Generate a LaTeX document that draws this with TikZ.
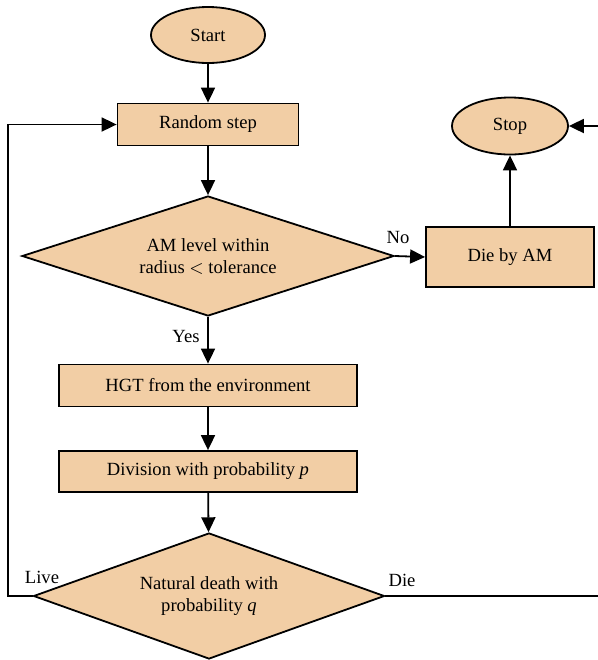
\documentclass[tikz,border=0pt]{standalone}
\usepackage{fontspec}
\setmainfont{Liberation Serif}
\definecolor{fcFill}{RGB}{242,206,165}
\usetikzlibrary{shapes,arrows.meta,positioning}

\begin{document}
\begin{tikzpicture}[x=0.5pt,y=-0.5pt,
    every node/.style={font=\fontsize{9.3}{11}\selectfont},
    blk/.style={draw,fill=fcFill,line width=0.9pt,inner sep=0pt,align=center},
    term/.style={blk,ellipse,minimum width=57pt,minimum height=28pt},
    proc/.style={blk,rectangle,minimum height=21pt},
    dec/.style={blk,diamond,shape aspect=3},
    flow/.style={line width=0.9pt,-{Triangle[length=7.5pt,width=7pt]}}]
    \useasboundingbox (0,0) rectangle (598,660);
    \clip (0,0) rectangle (598,660);

    % Main column
    \node[term] (start) at (208,35) {Start};
    \node[proc,minimum width=90.5pt] (rstep) at (208,124.5) {Random step};
    \node[dec,minimum width=186pt,minimum height=60pt] (amlevel) at (208,256) {AM level within\\radius $<$ tolerance};
    \node[proc,minimum width=149pt] (hgt) at (208,385.5) {HGT from the environment};
    \node[proc,minimum width=149pt,minimum height=20.5pt] (divide) at (208,471.5) {Division with probability \textit{p}};
    \node[dec,minimum width=175.5pt,minimum height=63pt] (natdeath) at (209,596) {Natural death with\\probability \textit{q}};

    % Right column
    \node[proc,minimum width=84pt,minimum height=30pt] (dieam) at (510,257) {Die by AM};
    \node[term,minimum width=58pt,minimum height=28.5pt] (stop) at (510,126) {Stop};

    % Labels
    \node (lblno) at (398,237) {No};
    \node (lblyes) at (186,336) {Yes};
    \node (lbllive) at (42,577) {Live};
    \node (lbldie) at (402,580) {Die};

    \coordinate (loopl) at (8,596);
    \coordinate (loopr) at (620,596);

    % Connectors
    \draw[flow] (start) -- (rstep);
    \draw[flow] (rstep) -- (amlevel);
    \draw[flow] (amlevel.east) -- (dieam.west);
    \draw[flow] (dieam) -- (stop);
    \draw[flow] (amlevel) -- (hgt);
    \draw[flow] (hgt) -- (divide);
    \draw[flow] (divide) -- (natdeath);
    \draw[flow] (natdeath.west) -- (loopl) |- (rstep.west);
    \draw[flow] (natdeath.east) -- (loopr) |- (stop.east);
\end{tikzpicture}
\end{document}
